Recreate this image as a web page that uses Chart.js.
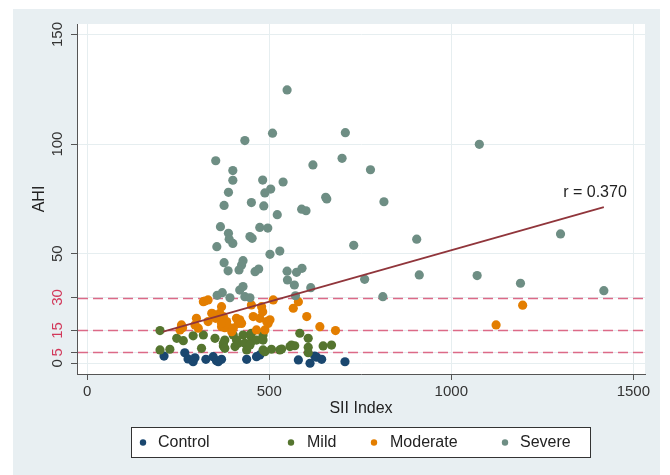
<!DOCTYPE html>
<html>
<head>
<meta charset="utf-8">
<script src="https://cdn.jsdelivr.net/npm/chart.js@4.4.1/dist/chart.umd.min.js"></script>
<style>
  html, body { margin: 0; padding: 0; background: #fff; }
</style>
</head>
<body>
<canvas id="chart" width="670" height="475"></canvas>
<script>
// values (SII index vs AHI)
const controlX = [211, 268, 277, 291, 296, 326, 346, 355, 360, 369, 438, 465, 474, 580, 612, 625, 630, 644, 708];
const controlY = [3.3, 4.8, 2, 0.7, 2.5, 1.8, 3, 1.2, 0.7, 1.8, 1.8, 3, 3.8, 1.5, 0, 3.3, 2.8, 1.8, 0.7];

const mildX = [200, 200, 227, 246, 264, 291, 319, 314, 351, 378, 374, 374, 401, 410, 406, 415, 428, 433, 438, 451,
  447, 451, 465, 483, 483, 483, 488, 506, 529, 534, 557, 561, 570, 584, 607, 607, 607, 648, 671, 447, 378];
const mildY = [14.9, 6.1, 6.4, 11.4, 10.3, 12.5, 12.9, 6.8, 11.4, 10.6, 7.9, 9.1, 12.9, 10.6, 7.6, 9.1, 12.9, 9.1, 6.1, 9.9,
  12.9, 13.7, 10.6, 12.9, 10.6, 6.1, 5.3, 6.4, 6.1, 6.5, 7.6, 8.3, 8, 13.7, 11.4, 7.3, 4.8, 7.9, 8.3, 8.3, 6.8];

const moderateX = [255, 259, 262, 296, 300, 305, 319, 323, 332, 332, 342, 353, 364, 369, 369, 374, 378, 383, 387, 397,
  401, 410, 415, 419, 424, 451, 456, 465, 474, 479, 482, 488, 493, 497, 502, 511, 566, 580, 603, 639, 682, 1123, 1196, 346, 369];
const moderateY = [15.2, 17.5, 16.2, 17.5, 20.5, 16, 28.1, 28.4, 28.9, 19, 22.8, 20.5, 22.8, 25.8, 16.7, 21.3, 16.2, 19, 16.7, 14.4,
  16, 20.5, 18.2, 19.8, 18.2, 26.6, 21.3, 15.2, 20.5, 25.8, 23.5, 15.2, 19, 18.2, 19.8, 28.9, 25.1, 28.1, 21.3, 16.7, 14.9, 17.5, 26.5, 22.4, 18.2];

const severeX = [549, 509, 709, 433, 353, 700, 620, 778, 400, 400, 482, 538, 504, 488, 388, 655, 658, 815, 376, 451,
  485, 589, 601, 522, 366, 474, 496, 388, 390, 400, 447, 453, 356, 732, 502, 529, 376, 387, 428, 424,
  417, 461, 471, 549, 575, 590, 550, 569, 762, 614, 572, 812, 419, 428, 371, 357, 392, 433, 447, 1077,
  905, 1300, 912, 1071, 1190, 1419];
const severeY = [124.7, 105, 105.2, 101.6, 92.4, 93.5, 90.5, 88.3, 87.9, 83.5, 83.6, 82.7, 79.5, 77.7, 78, 75.7, 75, 73.7, 72, 73.3,
  71.8, 70.3, 69.6, 67.8, 62.3, 62, 61.7, 59.3, 56.6, 54.7, 57.8, 57, 53.2, 53.8, 49.7, 51.2, 45.9, 42.2, 46.8, 44.8,
  42.6, 41.8, 43, 42, 41.5, 43.3, 38, 35.7, 38.3, 34.5, 30.8, 30.4, 33.4, 35, 32.2, 31, 29.9, 30.4, 29.9, 99.9,
  56.6, 59, 40.3, 40, 36.5, 33.1];

// fitted line ends and correlation
const fitX = [209, 1419];
const fitY = [14.4, 71.2];
const rText = 'r = 0.370';
const rAt = [1482, 78];

const cutoffs = [5, 15, 30];
const xTicks = [0, 500, 1000, 1500];
const yTicks = [0, 5, 15, 30, 50, 100, 150];

const groups = ['Control', 'Mild', 'Moderate', 'Severe'];
const colors = ['#1a476f', '#55752f', '#e37e00', '#6e8e84'];

const pts = (xs, ys) => xs.map((x, i) => ({ x: x, y: ys[i] }));

Chart.defaults.font.family = '"Liberation Sans", Arial, sans-serif';

const backdrop = {
  id: 'backdrop',
  beforeDraw(chart) {
    const { ctx, chartArea: a } = chart;
    ctx.save();
    ctx.fillStyle = '#fff';
    ctx.fillRect(0, 0, chart.width, chart.height);
    ctx.fillStyle = '#e8eff2';
    ctx.fillRect(13, 9, 647, 466);
    ctx.fillStyle = '#fff';
    ctx.fillRect(a.left, a.top, a.right - a.left, a.bottom - a.top);
    ctx.restore();
  },
  beforeDatasetsDraw(chart) {
    const { ctx, chartArea: a, scales } = chart;
    ctx.save();
    ctx.strokeStyle = '#dc6a87';
    ctx.lineWidth = 1.6;
    ctx.setLineDash([10, 5]);
    cutoffs.forEach(v => {
      const y = Math.round(scales.y.getPixelForValue(v)) + 0.5;
      ctx.beginPath();
      ctx.moveTo(a.left + 1, y);
      ctx.lineTo(a.right, y);
      ctx.stroke();
    });
    ctx.restore();
  },
  afterDatasetsDraw(chart) {
    const { ctx, scales } = chart;
    ctx.save();
    ctx.font = '16px "Liberation Sans", Arial, sans-serif';
    ctx.fillStyle = '#222';
    ctx.textAlign = 'right';
    ctx.textBaseline = 'middle';
    ctx.fillText(rText, scales.x.getPixelForValue(rAt[0]), scales.y.getPixelForValue(rAt[1]));
    ctx.restore();
  },
  afterDraw(chart) {
    // legend box like the Stata one
    const { ctx } = chart;
    const dotX = [143, 291, 374, 505];
    const txtX = [158, 307, 390, 520];
    ctx.save();
    ctx.fillStyle = '#fff';
    ctx.fillRect(131.5, 427.5, 459, 30);
    ctx.strokeStyle = '#333';
    ctx.lineWidth = 1;
    ctx.strokeRect(131.5, 427.5, 459, 30);
    ctx.font = '16px "Liberation Sans", Arial, sans-serif';
    ctx.textBaseline = 'middle';
    groups.forEach((g, i) => {
      ctx.fillStyle = colors[i];
      ctx.beginPath();
      ctx.arc(dotX[i], 442.5, 3.2, 0, Math.PI * 2);
      ctx.fill();
      ctx.fillStyle = '#222';
      ctx.fillText(g, txtX[i], 443);
    });
    ctx.restore();
  }
};

new Chart(document.getElementById('chart'), {
  type: 'scatter',
  data: {
    datasets: [
      { label: 'fit', data: pts(fitX, fitY), showLine: true, pointRadius: 0, borderColor: '#90353b', borderWidth: 1.8, order: 0 },
      { label: 'Severe', data: pts(severeX, severeY), backgroundColor: colors[3], order: 1 },
      { label: 'Moderate', data: pts(moderateX, moderateY), backgroundColor: colors[2], order: 2 },
      { label: 'Mild', data: pts(mildX, mildY), backgroundColor: colors[1], order: 3 },
      { label: 'Control', data: pts(controlX, controlY), backgroundColor: colors[0], order: 4 }
    ]
  },
  options: {
    responsive: false,
    animation: false,
    layout: { padding: { left: 13, top: 24, right: 25, bottom: 55 } },
    elements: { point: { radius: 4.6, borderWidth: 0, hoverRadius: 4.6 } },
    plugins: { legend: { display: false }, tooltip: { enabled: false } },
    scales: {
      x: {
        type: 'linear',
        min: -28,
        max: 1532,
        afterBuildTicks: s => { s.ticks = xTicks.map(v => ({ value: v })); },
        afterFit: s => { s.height = 46; },
        ticks: { autoSkip: false, maxRotation: 0, padding: 3, color: '#333', font: { size: 15 }, callback: v => String(v) },
        grid: { color: '#e6eef0', tickColor: '#555', tickLength: 6 },
        border: { color: '#555' },
        title: { display: true, text: 'SII Index', color: '#222', font: { size: 16 }, padding: { top: 0, bottom: 2 } }
      },
      y: {
        type: 'linear',
        min: -4.9,
        max: 154.8,
        afterBuildTicks: s => { s.ticks = yTicks.map(v => ({ value: v })); },
        afterFit: s => { s.width = 64; },
        ticks: {
          autoSkip: false, minRotation: 90, maxRotation: 90, crossAlign: 'center', padding: 1,
          font: { size: 15 },
          color: c => cutoffs.includes(c.tick.value) ? '#d2385a' : '#333',
          callback: v => String(v)
        },
        grid: { color: '#e6eef0', tickColor: '#555', tickLength: 6 },
        border: { color: '#555' },
        title: { display: true, text: 'AHI', color: '#222', font: { size: 16 }, padding: { top: 17, bottom: 0 } }
      }
    }
  },
  plugins: [backdrop]
});
</script>
</body>
</html>
